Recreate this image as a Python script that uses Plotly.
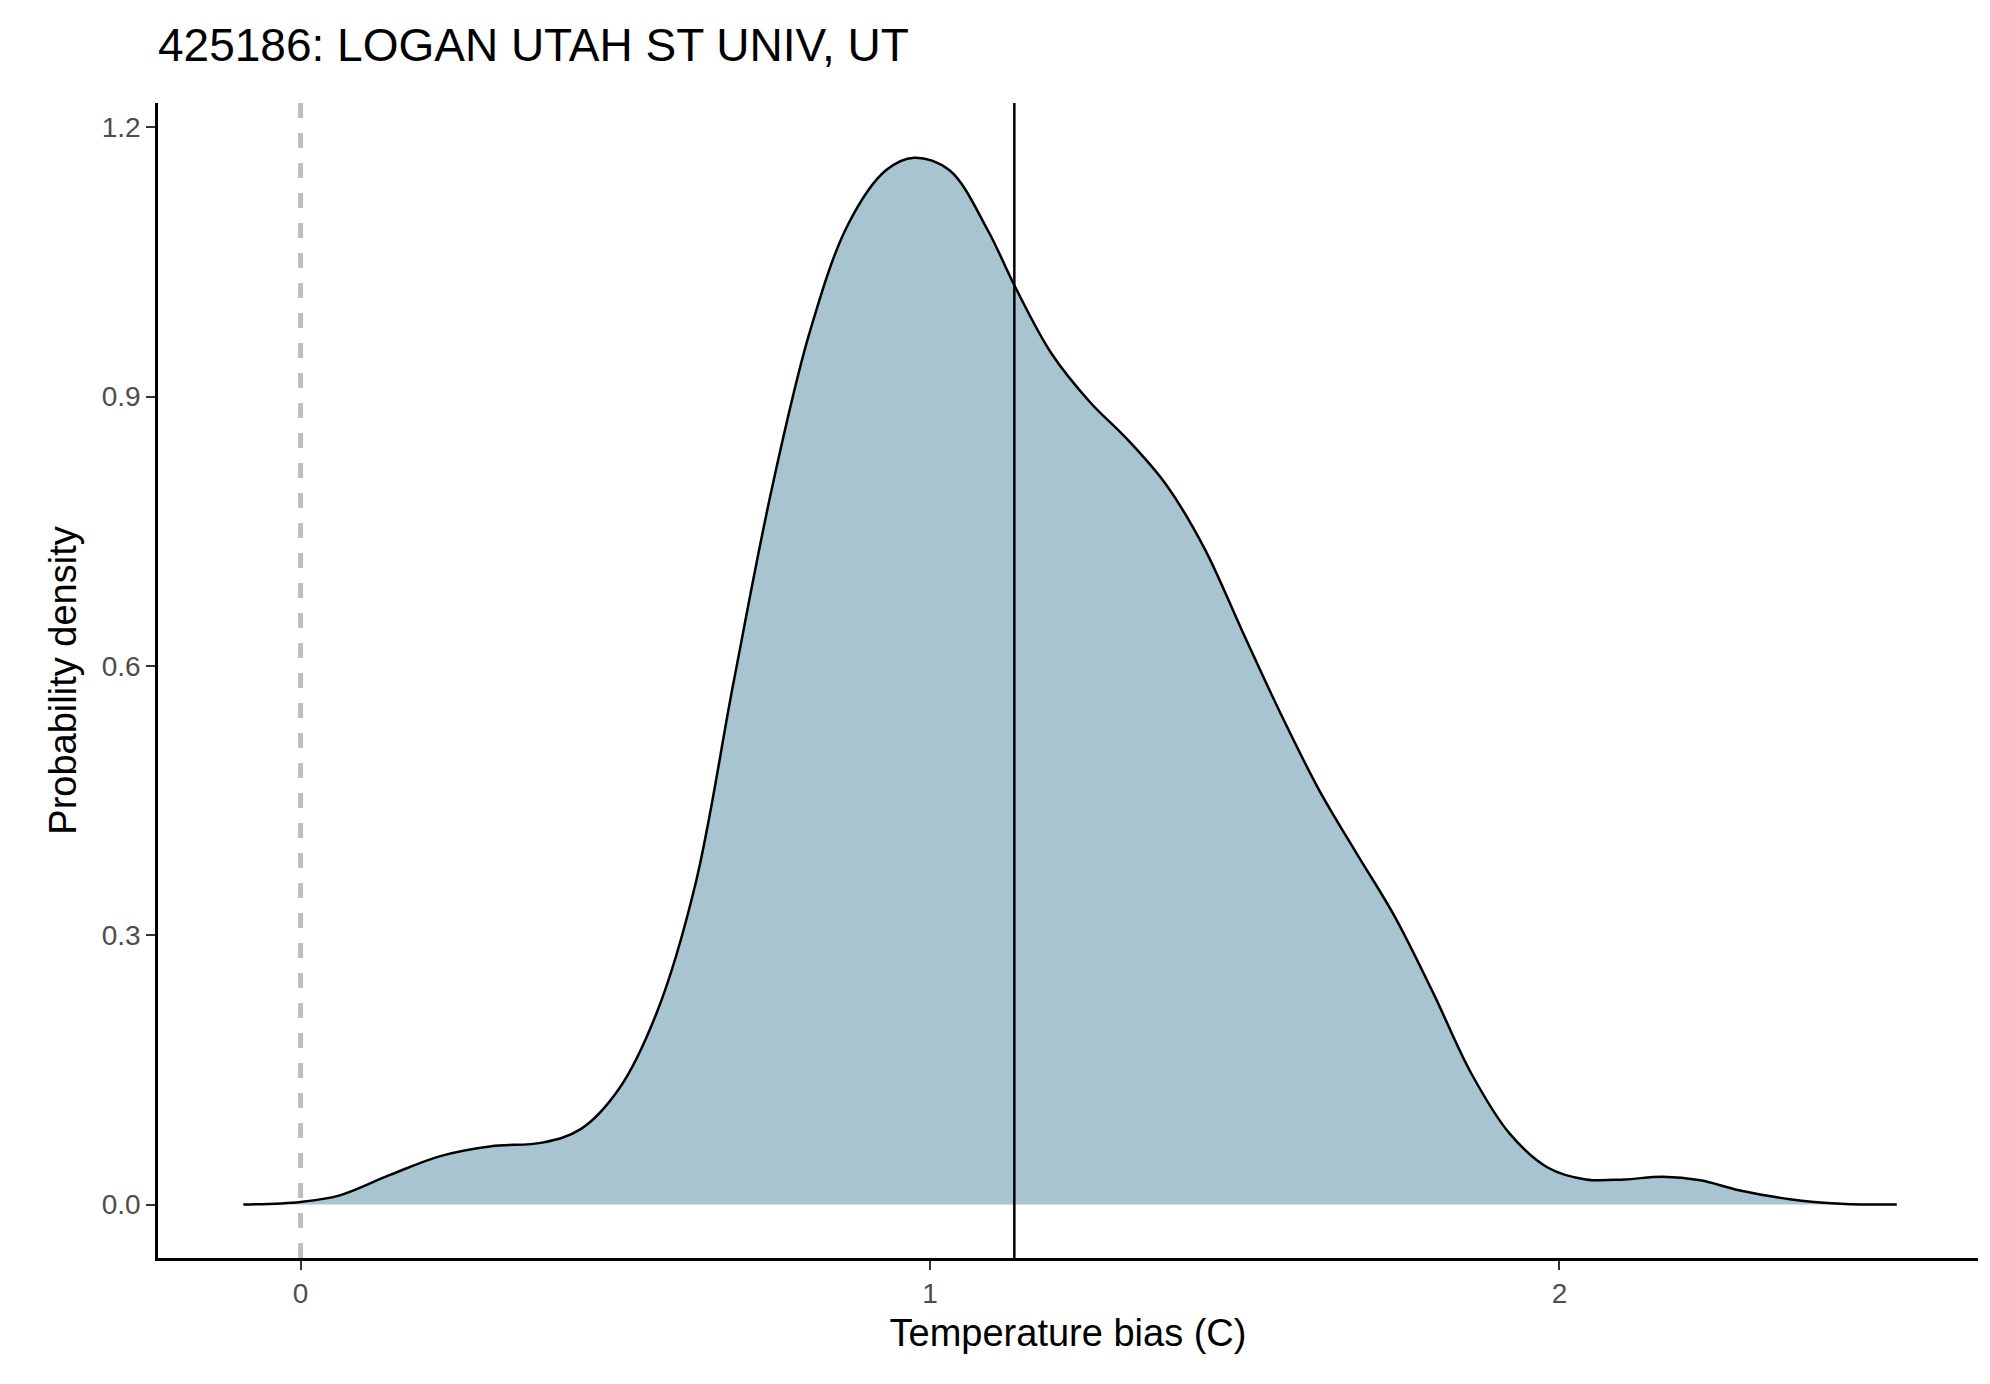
import plotly.graph_objects as go

x_vals = [-0.091,0.0,0.061,0.142,0.222,0.303,0.384,0.445,0.506,0.566,0.627,0.688,0.748,0.809,0.870,0.930,0.975,1.031,1.092,1.134,1.193,1.254,1.314,1.375,1.436,1.496,1.557,1.618,1.678,1.739,1.800,1.860,1.921,1.982,2.042,2.103,2.164,2.224,2.285,2.366,2.447,2.536]
y_vals = [0.0,0.003,0.010,0.033,0.054,0.065,0.069,0.084,0.129,0.214,0.356,0.582,0.795,0.972,1.092,1.152,1.166,1.152,1.085,1.024,0.948,0.894,0.852,0.802,0.731,0.639,0.547,0.462,0.391,0.320,0.235,0.146,0.079,0.041,0.028,0.028,0.031,0.027,0.016,0.006,0.001,0.0]
mean_bias = 1.134
x_ticks = [0, 1, 2]
y_ticks = [0.0, 0.3, 0.6, 0.9, 1.2]
y_tick_text = ["0.0", "0.3", "0.6", "0.9", "1.2"]

fig = go.Figure()
fig.add_trace(go.Scatter(x=x_vals, y=y_vals, mode="lines", fill="tozeroy",
                         fillcolor="#a7c4d0", line=dict(color="black", width=2.5, shape="spline"),
                         showlegend=False, hoverinfo="skip"))
fig.add_shape(type="line", x0=0, x1=0, y0=0, y1=1, yref="paper",
              line=dict(color="#bebebe", width=5, dash="dash"))
fig.add_shape(type="line", x0=mean_bias, x1=mean_bias, y0=0, y1=1, yref="paper",
              line=dict(color="black", width=2.5))

axis_common = dict(showgrid=False, zeroline=False, showline=True, linecolor="black", linewidth=2.5,
                   ticks="outside", ticklen=9, tickwidth=2, tickcolor="#333333",
                   tickfont=dict(size=28, color="#4d4d4d"), title_font=dict(size=38, color="black"))
fig.update_layout(
    width=1990, height=1384, paper_bgcolor="white", plot_bgcolor="white",
    font=dict(family="Liberation Sans, Arial, sans-serif"),
    margin=dict(l=150, r=20, t=95, b=134),
    title=dict(text="425186: LOGAN UTAH ST UNIV, UT", x=0, xref="paper", xanchor="left",
               y=0.985, yanchor="top", font=dict(size=46, color="black")),
    xaxis=dict(range=[-0.2265, 2.665], tickvals=x_ticks, title=dict(text="Temperature bias (C)", standoff=12), **axis_common),
    yaxis=dict(range=[-0.0595, 1.227], tickvals=y_ticks, ticktext=y_tick_text,
               title=dict(text="Probability density", standoff=14), **axis_common),
)
fig.write_html("out.html")
